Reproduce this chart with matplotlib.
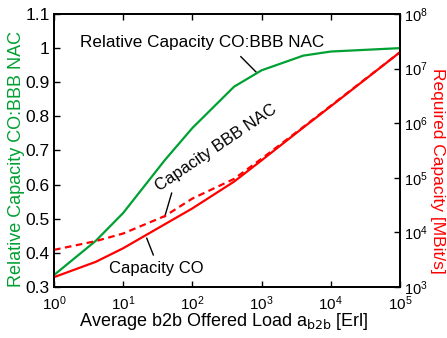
import numpy as np
import matplotlib
matplotlib.use("Agg")
import matplotlib.pyplot as plt

plt.rcParams['font.family'] = ['Liberation Sans', 'DejaVu Sans']
plt.rcParams['mathtext.default'] = 'regular'

# --- data ---
load = [1, 4, 10, 40, 100, 400, 1000, 4000, 10000, 100000]
rel_capacity = [0.335, 0.435, 0.517, 0.672, 0.766, 0.887, 0.935, 0.978, 0.99, 1.0]
# log10 of required capacity [MBit/s]
log_cap_co = [3.18, 3.46, 3.71, 4.15, 4.44, 4.93, 5.32, 5.92, 6.31, 7.30]
log_cap_bbb = [3.68, 3.84, 3.98, 4.30, 4.62, 4.98, 5.35, 5.93, 6.32, 7.30]

GREEN = '#00a032'
RED = '#ff0000'
W, H = 447, 338

fig = plt.figure(figsize=(W / 100, H / 100), dpi=100)
ax = fig.add_axes([54 / W, 1 - 287 / H, 346 / W, 273 / H])
ax2 = ax.twinx()

ax.plot(load, rel_capacity, color=GREEN, lw=1.6, zorder=3)
ax2.plot(load, 10 ** np.array(log_cap_co), color=RED, lw=1.6)
ax2.plot(load, 10 ** np.array(log_cap_bbb), color=RED, lw=1.6, ls=(0, (3, 2)))

ax.set_xscale('log')
ax.set_xlim(1, 1e5)
ax.set_ylim(0.3, 1.1)
ax.set_yticks(np.arange(0.3, 1.101, 0.1))
ax.set_yticklabels(['0.3', '0.4', '0.5', '0.6', '0.7', '0.8', '0.9', '1', '1.1'])
ax.set_xticks([1, 10, 100, 1e3, 1e4, 1e5])
ax.minorticks_off()

ax2.set_yscale('log')
ax2.set_ylim(1e3, 1e8)
ax2.set_yticks([1e3, 1e4, 1e5, 1e6, 1e7, 1e8])
ax2.minorticks_off()

for a in (ax, ax2):
    a.tick_params(direction='in', length=4, width=1, top=True)
    for s in a.spines.values():
        s.set_linewidth(1.3)
ax.tick_params(axis='y', labelsize=12.5, pad=3)
ax.tick_params(axis='x', labelsize=11, pad=5)
ax2.tick_params(axis='y', labelsize=10.5, pad=3)

# axis labels placed as figure text
fig.text(224 / W, 1 - 322 / H, r'Average b2b Offered Load a$_{\mathrm{b2b}}$ [Erl]',
         fontsize=13, ha='center', va='center')
fig.text(17 / W, 1 - 159 / H, 'Relative Capacity CO:BBB NAC', color=GREEN,
         fontsize=13, rotation=90, ha='center', va='center')
fig.text(438 / W, 1 - 171 / H, 'Required Capacity [MBit/s]', color=RED,
         fontsize=12.5, rotation=270, ha='center', va='center')

# annotations
ax.text(10 ** 0.376, 1.016, 'Relative Capacity CO:BBB NAC', fontsize=12.3, va='center', ha='left')
ax.plot([10 ** 2.70, 10 ** 2.92], [0.975, 0.93], color='black', lw=1)

ax.text(10 ** 2.34, 0.708, 'Capacity BBB NAC', fontsize=12, va='center', ha='center',
        rotation=34, rotation_mode='anchor')
ax.plot([10 ** 1.70, 10 ** 1.60], [0.575, 0.506], color='black', lw=1)

ax.text(10 ** 1.474, 0.353, 'Capacity CO', fontsize=12, va='center', ha='center')
ax.plot([10 ** 1.34, 10 ** 1.435], [0.443, 0.394], color='black', lw=1)

fig.savefig('out.png', dpi=100)
